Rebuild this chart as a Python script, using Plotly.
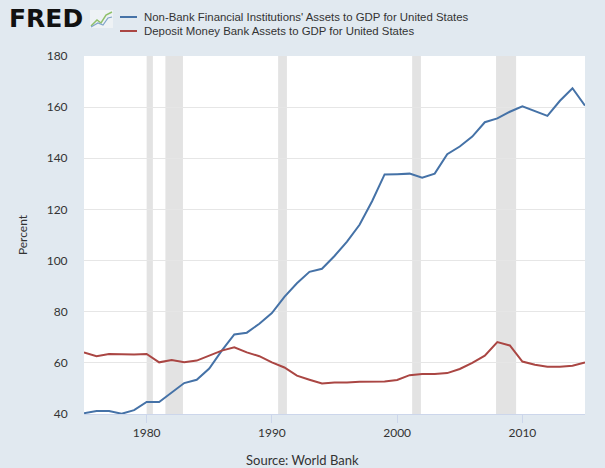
import plotly.graph_objects as go

years = list(range(1975, 2016))
nonbank = [40.3, 41.2, 41.2, 40.1, 41.5, 44.7, 44.7, 48.4, 52.1, 53.4,
           57.8, 64.8, 71.1, 71.8, 75.3, 79.5, 85.8, 91.1, 95.6, 96.8,
           101.8, 107.4, 114.0, 123.2, 133.7, 133.8, 134.0, 132.4, 134.0, 141.6,
           144.6, 148.5, 154.1, 155.6, 158.2, 160.3, 158.5, 156.6, 162.5, 167.4,
           160.6]
deposit = [64.1, 62.6, 63.5, 63.3, 63.3, 63.5, 60.2, 61.1, 60.2, 60.9,
           62.8, 64.8, 66.1, 64.1, 62.6, 60.2, 58.2, 55.0, 53.4, 51.9,
           52.3, 52.3, 52.6, 52.6, 52.7, 53.3, 55.2, 55.6, 55.6, 56.0,
           57.6, 60.0, 62.8, 68.1, 66.8, 60.5, 59.3, 58.5, 58.5, 58.9,
           60.2]
recession_starts = [1980.0, 1981.5, 1990.5, 2001.2, 2007.9]
recession_ends = [1980.5, 1982.9, 1991.2, 2001.9, 2009.5]
series_names = ["Non-Bank Financial Institutions' Assets to GDP for United States",
                "Deposit Money Bank Assets to GDP for United States"]
series_colors = ["#4572a7", "#aa4643"]
x_ticks = [1980, 1990, 2000, 2010]
y_ticks = [40, 60, 80, 100, 120, 140, 160, 180]

W, H = 605, 468
ml, mr, mt, mb = 84, 20, 56, 54
pw = W - ml - mr
ph = H - mt - mb

def px_x(p):
    return (p - ml) / pw

def px_y(p):
    return 1 - (p - mt) / ph

fig = go.Figure()
for name, vals, col in zip(series_names, [nonbank, deposit], series_colors):
    fig.add_trace(go.Scatter(x=years, y=vals, mode="lines", name=name,
                             line=dict(color=col, width=2), showlegend=False))

shapes = []
for s, e in zip(recession_starts, recession_ends):
    shapes.append(dict(type="rect", xref="x", yref="paper", x0=s, x1=e, y0=0, y1=1,
                       fillcolor="#e3e3e3", line=dict(width=0), layer="below"))

annotations = []
# legend (drawn manually)
for i, (name, col) in enumerate(zip(series_names, series_colors)):
    yp = 17 + i * 14
    shapes.append(dict(type="line", xref="paper", yref="paper",
                       x0=px_x(120), x1=px_x(137), y0=px_y(yp), y1=px_y(yp),
                       line=dict(color=col, width=2)))
    annotations.append(dict(text=name, xref="paper", yref="paper",
                            x=px_x(142), y=px_y(yp), xanchor="left", yanchor="middle",
                            showarrow=False,
                            font=dict(family="Liberation Sans, Arial", size=11.4, color="#333333")))

# FRED logo
annotations.append(dict(text="<b>FRED</b>", xref="paper", yref="paper",
                        x=px_x(7), y=px_y(19), xanchor="left", yanchor="middle",
                        showarrow=False,
                        font=dict(family="DejaVu Sans, Liberation Sans", size=25, color="#111111")))
# small logo graph icon
shapes.append(dict(type="rect", xref="paper", yref="paper",
                   x0=px_x(90), x1=px_x(113), y0=px_y(28), y1=px_y(10),
                   fillcolor="#eef2f5", line=dict(width=0)))
shapes.append(dict(type="path", xref="paper", yref="paper",
                   path=f"M {px_x(91)} {px_y(26)} L {px_x(97)} {px_y(20)} L {px_x(101)} {px_y(23)} L {px_x(106)} {px_y(15)} L {px_x(112)} {px_y(12)}",
                   line=dict(color="#8fc06a", width=1.5)))
shapes.append(dict(type="path", xref="paper", yref="paper",
                   path=f"M {px_x(91)} {px_y(27)} L {px_x(98)} {px_y(23)} L {px_x(103)} {px_y(25)} L {px_x(108)} {px_y(18)} L {px_x(112)} {px_y(17)}",
                   line=dict(color="#7fa4c8", width=1.2)))

annotations.append(dict(text="Source: World Bank", xref="paper", yref="paper",
                        x=px_x(302), y=px_y(460), xanchor="center", yanchor="middle",
                        showarrow=False,
                        font=dict(family="Lato, Open Sans", size=13, color="#333333")))

fig.update_layout(
    width=W, height=H,
    margin=dict(l=ml, r=mr, t=mt, b=mb, pad=0),
    paper_bgcolor="#e1e9f0",
    plot_bgcolor="#ffffff",
    shapes=shapes,
    annotations=annotations,
    font=dict(family="Lato, Open Sans", size=12, color="#333333"),
)
fig.update_xaxes(range=[1975, 2015], tickvals=x_ticks, ticktext=[str(t) for t in x_ticks],
                 showgrid=False, zeroline=False, showline=True, linecolor="#ccd6eb",
                 linewidth=1, ticks="outside", ticklen=8, tickcolor="#ccd6eb",
                 tickfont=dict(family="Lato, Open Sans", size=12, color="#333333"))
fig.update_yaxes(range=[40, 180], tickvals=y_ticks, ticktext=[str(t) for t in y_ticks],
                 showgrid=True, gridcolor="#e6e6e6", gridwidth=1, zeroline=False,
                 showline=False, ticks="outside", ticklen=13, tickcolor="rgba(0,0,0,0)",
                 title=dict(text="Percent", standoff=16,
                            font=dict(family="Lato, Open Sans", size=12, color="#333333")),
                 tickfont=dict(family="Lato, Open Sans", size=12, color="#333333"))

fig.write_html("out.html", config={"displayModeBar": False},
               post_script="document.body.style.margin='0';document.body.style.overflow='hidden';")
